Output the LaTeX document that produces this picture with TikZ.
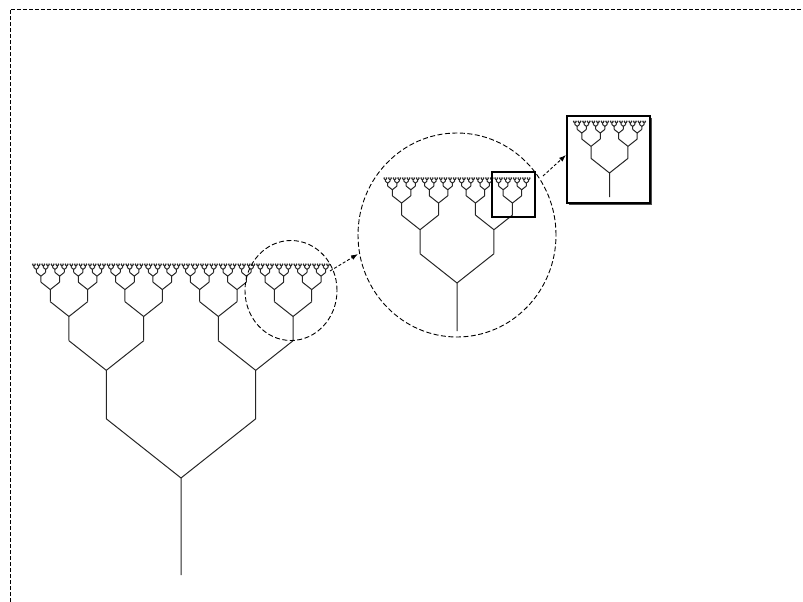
\documentclass[tikz,border=0pt]{standalone}
\usetikzlibrary{arrows.meta,shapes.geometric}
\newcommand\fractree[4]{%
  \ifnum#4>0
  \begingroup
  \pgfmathsetmacro\fty{#2-#3}%
  \pgfmathsetmacro\ftlx{#1-0.77*#3}%
  \pgfmathsetmacro\ftrx{#1+0.77*#3}%
  \pgfmathsetmacro\ftby{#2-1.61*#3}%
  \pgfmathsetmacro\fthl{#3/2}%
  \draw[branch] (#1,#2) -- (#1,\fty) (\ftlx,\ftby) -- (#1,\fty) -- (\ftrx,\ftby);
  \pgfmathtruncatemacro\ftnd{#4-1}%
  \edef\ftnext{\noexpand\fractree{\ftlx}{\ftby}{\fthl}{\ftnd}\noexpand\fractree{\ftrx}{\ftby}{\fthl}{\ftnd}}%
  \expandafter\endgroup\ftnext
  \fi}
\tikzset{
  branch/.style={line width=1pt, line join=miter, black!85},
  dashline/.style={dash pattern=on 4pt off 2pt, line width=0.9pt},
  lens/.style={draw, dash pattern=on 5pt off 2.5pt, line width=0.9pt, inner sep=0pt},
  boxframe/.style={draw, line width=1.2pt, inner sep=0pt},
  zoomarrow/.style={dash pattern=on 3pt off 2pt, line width=0.9pt, -{Latex[length=7pt,width=5pt]}}
}
\begin{document}
\begin{tikzpicture}[x=1pt,y=-1pt]
\useasboundingbox (0,0) rectangle (803,602);
% page border
\draw[dashline] (10,602) -- (10,9) -- (803,9);
% main tree
\fractree{181}{575}{97}{8}
% ellipse around subtree
\node[lens, ellipse, minimum width=92pt, minimum height=100pt] (e1) at (291,290.5) {};
% magnified circle
\node[lens, ellipse, minimum width=198pt, minimum height=204pt] (c2) at (457,235) {};
\fractree{457}{331}{48}{7}
% small square inside circle
\node[boxframe, rectangle, minimum width=43pt, minimum height=45pt] (s1) at (513.5,194.5) {};
% big square with shadow
\fill[black!70] (569,203) rectangle (651.5,205);
\fill[black!70] (650,118) rectangle (651.5,205);
\node[boxframe, rectangle, minimum width=83pt, minimum height=87pt, fill=white] (s2) at (608.5,159.5) {};
\fractree{609.5}{197}{24}{6}
% arrows
\coordinate (a1s) at (330,271);
\coordinate (a1e) at (358,254);
\coordinate (a2s) at (543,176);
\coordinate (a2e) at (566,155);
\draw[zoomarrow] (a1s) -- (a1e);
\draw[zoomarrow] (a2s) -- (a2e);
\end{tikzpicture}
\end{document}
